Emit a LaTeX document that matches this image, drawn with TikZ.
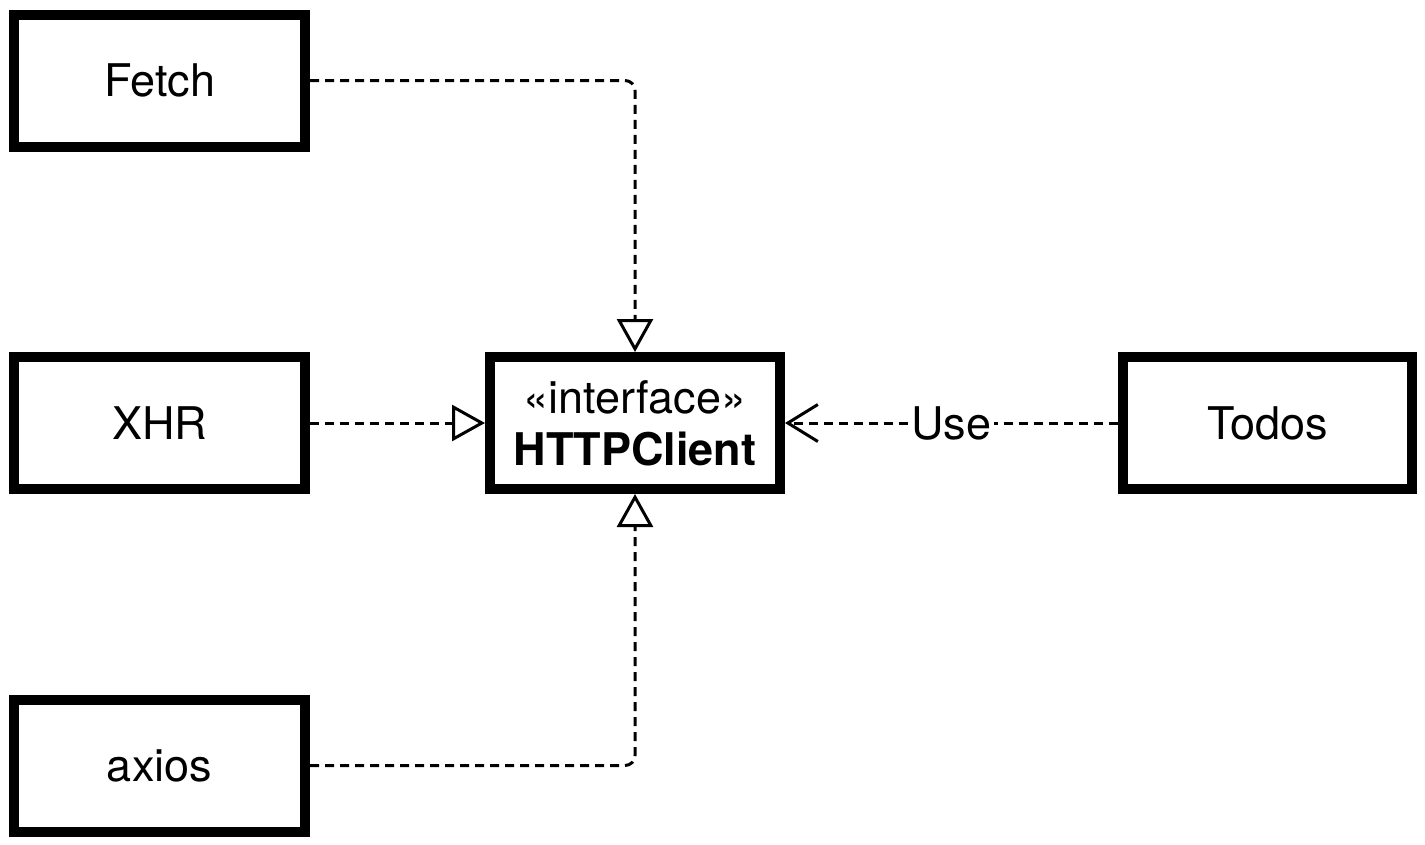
\documentclass[tikz,border=0pt]{standalone}
\usepackage{fontspec}
\setmainfont{TeX Gyre Heros}
\usetikzlibrary{arrows.meta}
\begin{document}
\begin{tikzpicture}[x=1pt,y=-1pt,
  box/.style={draw, line width=10pt, minimum width=291pt, minimum height=132pt,
    inner sep=0pt, outer sep=5pt, font=\fontsize{45}{52}\selectfont, align=center},
  dep/.style={line width=3pt, dash pattern=on 9pt off 6pt},
  impl/.style={dep, -{Triangle[open, length=33pt, width=36pt]}},
  usearrow/.style={dep, -{Straight Barb[length=30pt, width=37pt]}}]
\useasboundingbox (0,0) rectangle (1425,844);
\node[box] (fetch) at (159.5,80.5) {Fetch};
\node[box] (xhr) at (159.5,423) {XHR};
\node[box] (axios) at (159.5,765.5) {axios};
\node[box, minimum width=290pt] (http) at (635,423) {«interface»\\\textbf{HTTPClient}};
\node[box, minimum width=289pt] (todos) at (1267.5,423) {Todos};
\draw[impl, rounded corners=10pt] (fetch.east) -| (http.north);
\draw[impl] (xhr.east) -- (http.west);
\draw[impl, rounded corners=10pt] (axios.east) -| (http.south);
\draw[usearrow] (todos.west) -- node[fill=white, inner sep=2pt, font=\fontsize{45}{52}\selectfont] (uselbl) {Use} (http.east);
\end{tikzpicture}
\end{document}
